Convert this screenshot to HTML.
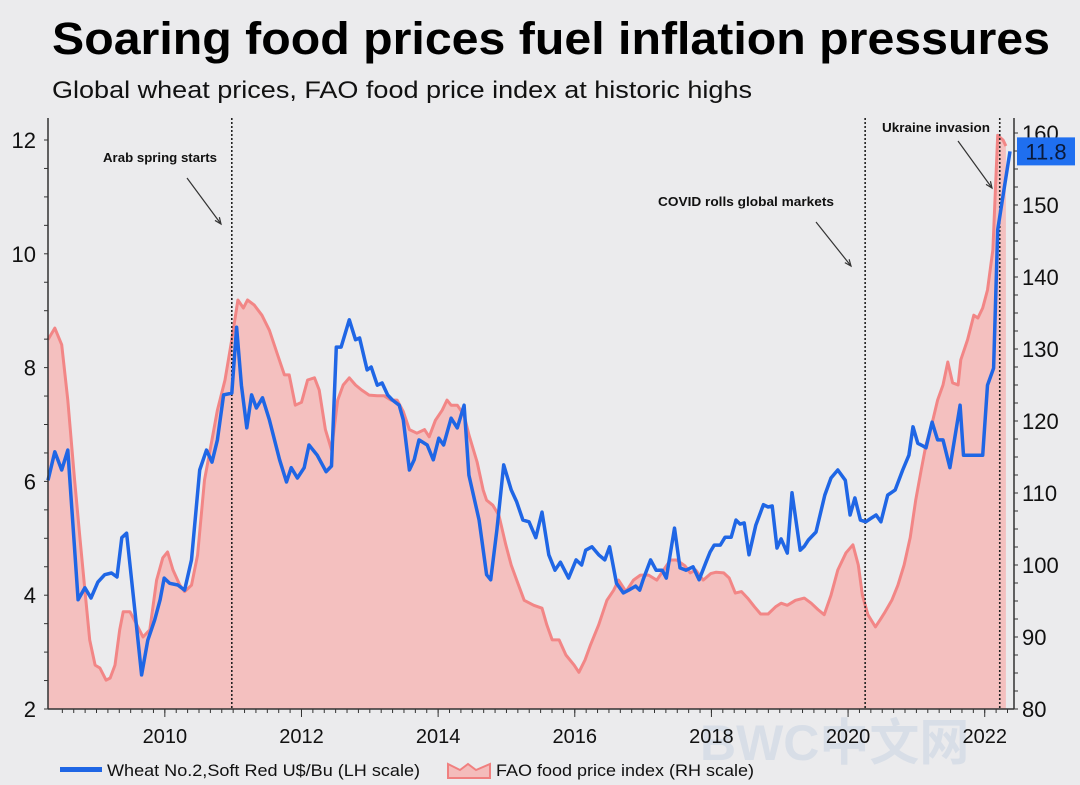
<!DOCTYPE html>
<html><head><meta charset="utf-8"><style>
html,body{margin:0;padding:0;background:#ebebed;}
svg{display:block;font-family:"Liberation Sans",Arial,sans-serif;}
</style></head><body>
<svg id="chart" width="1080" height="785" viewBox="0 0 1080 785" xmlns="http://www.w3.org/2000/svg">
<rect x="0" y="0" width="1080" height="785" fill="#ebebed"/>
<text x="52" y="54" font-size="45" font-weight="bold" fill="#000" textLength="998" lengthAdjust="spacingAndGlyphs">Soaring food prices fuel inflation pressures</text>
<text x="52" y="98" font-size="24" fill="#111" textLength="700" lengthAdjust="spacingAndGlyphs">Global wheat prices, FAO food price index at historic highs</text>
<text x="700" y="760" font-size="50" font-weight="bold" fill="#d4dbe6" opacity="0.8" font-family="'Liberation Sans','Noto Sans CJK SC',sans-serif">BWC中文网</text>
<g id="plot"></g>
<g id="axes"></g>
<g>
  <g>
    <rect x="60" y="767" width="42" height="5" fill="#1f66e5"/>
    <text x="107" y="776" font-size="17" fill="#111" textLength="313" lengthAdjust="spacingAndGlyphs">Wheat No.2,Soft Red U$/Bu (LH scale)</text>
  </g>
  <g>
    <path d="M448 764 L460 770 L468 764 L476 770 L490 764 L490 778 L448 778 Z" fill="#f4bcbb" stroke="#f08080" stroke-width="2"/>
    <text x="496" y="776" font-size="17" fill="#111" textLength="258" lengthAdjust="spacingAndGlyphs">FAO food price index (RH scale)</text>
  </g>
</g>
</svg>
<script>
const wheatYears=[2008.29,2008.39,2008.49,2008.58,2008.73,2008.83,2008.92,2009.02,2009.12,2009.22,2009.30,2009.37,2009.44,2009.56,2009.66,2009.75,2009.85,2009.93,2009.99,2010.07,2010.19,2010.29,2010.39,2010.51,2010.61,2010.69,2010.77,2010.86,2010.98,2011.05,2011.12,2011.20,2011.27,2011.34,2011.43,2011.53,2011.68,2011.78,2011.85,2011.94,2012.04,2012.11,2012.23,2012.36,2012.44,2012.51,2012.58,2012.70,2012.79,2012.85,2012.96,2013.02,2013.11,2013.18,2013.26,2013.33,2013.43,2013.49,2013.58,2013.65,2013.72,2013.84,2013.93,2014.01,2014.08,2014.19,2014.28,2014.38,2014.45,2014.60,2014.71,2014.77,2014.86,2014.96,2015.07,2015.15,2015.24,2015.33,2015.43,2015.52,2015.62,2015.71,2015.79,2015.91,2016.02,2016.10,2016.16,2016.25,2016.35,2016.44,2016.51,2016.61,2016.71,2016.79,2016.89,2016.95,2017.00,2017.11,2017.19,2017.28,2017.34,2017.46,2017.54,2017.63,2017.73,2017.82,2017.92,2017.98,2018.04,2018.13,2018.20,2018.29,2018.36,2018.42,2018.48,2018.55,2018.65,2018.76,2018.83,2018.89,2018.96,2019.02,2019.11,2019.18,2019.30,2019.36,2019.42,2019.53,2019.66,2019.75,2019.85,2019.96,2020.03,2020.10,2020.18,2020.26,2020.32,2020.41,2020.48,2020.58,2020.69,2020.80,2020.89,2020.95,2021.02,2021.10,2021.14,2021.23,2021.31,2021.39,2021.49,2021.64,2021.69,2021.97,2022.04,2022.13,2022.19,2022.28,2022.37];
const wheatValues=[6.02,6.52,6.20,6.55,3.92,4.13,3.95,4.23,4.36,4.39,4.32,5.01,5.09,3.74,2.60,3.21,3.56,3.92,4.30,4.21,4.18,4.09,4.62,6.20,6.55,6.34,6.73,7.52,7.55,8.71,7.69,6.94,7.52,7.29,7.47,7.08,6.38,5.99,6.24,6.06,6.24,6.64,6.46,6.17,6.27,8.36,8.36,8.84,8.49,8.52,7.96,8.01,7.69,7.73,7.52,7.43,7.34,7.08,6.20,6.38,6.73,6.64,6.38,6.76,6.64,7.11,6.94,7.34,6.11,5.32,4.36,4.27,5.15,6.29,5.85,5.64,5.32,5.29,5.01,5.46,4.71,4.44,4.58,4.30,4.62,4.53,4.79,4.85,4.71,4.62,4.85,4.21,4.04,4.09,4.16,4.09,4.27,4.62,4.44,4.44,4.30,5.18,4.48,4.44,4.50,4.27,4.58,4.76,4.88,4.88,5.02,5.02,5.32,5.25,5.27,4.71,5.23,5.59,5.55,5.57,4.83,4.99,4.74,5.80,4.79,4.86,4.97,5.11,5.76,6.06,6.20,6.02,5.41,5.71,5.32,5.29,5.34,5.41,5.29,5.76,5.85,6.20,6.46,6.96,6.67,6.62,6.59,7.04,6.73,6.73,6.24,7.34,6.46,6.46,7.69,7.99,10.42,11.12,11.8];
const faoYears=[2008.29,2008.39,2008.49,2008.58,2008.68,2008.76,2008.83,2008.90,2008.98,2009.05,2009.14,2009.20,2009.27,2009.34,2009.39,2009.49,2009.59,2009.68,2009.78,2009.88,2009.97,2010.04,2010.12,2010.22,2010.29,2010.39,2010.48,2010.58,2010.69,2010.77,2010.88,2010.98,2011.07,2011.15,2011.21,2011.31,2011.42,2011.53,2011.65,2011.75,2011.82,2011.91,2012.00,2012.09,2012.19,2012.26,2012.35,2012.44,2012.53,2012.61,2012.70,2012.79,2012.88,2012.99,2013.11,2013.21,2013.31,2013.40,2013.49,2013.58,2013.69,2013.80,2013.87,2013.96,2014.06,2014.13,2014.19,2014.28,2014.38,2014.45,2014.57,2014.66,2014.71,2014.80,2014.89,2014.99,2015.07,2015.15,2015.26,2015.40,2015.52,2015.59,2015.67,2015.77,2015.87,2015.99,2016.06,2016.15,2016.23,2016.35,2016.47,2016.57,2016.64,2016.75,2016.86,2016.96,2017.08,2017.20,2017.30,2017.40,2017.49,2017.61,2017.69,2017.77,2017.88,2017.99,2018.07,2018.18,2018.26,2018.35,2018.44,2018.53,2018.63,2018.72,2018.83,2018.94,2019.02,2019.11,2019.23,2019.36,2019.46,2019.56,2019.65,2019.75,2019.85,2019.97,2020.07,2020.15,2020.21,2020.29,2020.40,2020.47,2020.53,2020.64,2020.73,2020.82,2020.91,2020.99,2021.07,2021.14,2021.24,2021.31,2021.39,2021.46,2021.53,2021.61,2021.65,2021.75,2021.84,2021.90,2021.97,2022.04,2022.12,2022.19,2022.27,2022.31];
const faoValues=[131.3,132.9,130.6,122.9,111.8,103.5,96.5,89.6,86.1,85.7,84.0,84.3,86.1,91.0,93.5,93.5,91.7,90.0,91.0,97.9,101.0,101.8,99.3,97.2,96.3,97.2,101.4,111.8,117.4,121.5,125.7,131.3,136.8,135.7,136.8,136.1,134.7,132.6,129.2,126.4,126.4,122.2,122.6,125.7,126.0,124.3,118.8,116.0,122.9,125.0,126.0,125.0,124.3,123.6,123.5,123.5,122.9,122.9,121.3,118.8,118.3,118.8,117.8,120.1,121.5,122.9,122.2,122.2,120.8,118.1,114.3,110.4,109.0,108.3,106.9,102.8,100.0,97.9,95.1,94.4,94.0,91.7,89.6,89.6,87.5,86.1,85.1,86.8,88.9,91.7,95.1,96.5,97.9,96.3,97.9,98.6,98.6,97.9,99.3,100.7,100.7,99.9,98.9,99.3,97.9,98.8,99.0,98.9,98.2,96.1,96.3,95.4,94.2,93.2,93.2,94.2,94.7,94.4,95.1,95.4,94.7,93.8,93.1,95.8,99.3,101.7,102.8,100.0,95.8,93.1,91.4,92.4,93.3,95.1,97.2,100.0,103.8,109.0,113.2,116.7,120.1,122.9,125.0,128.2,125.3,125.0,128.5,131.3,134.7,134.3,135.7,138.2,143.8,159.7,159.0,158.2];
const leftTicks=[2,4,6,8,10,12];
const rightTicks=[80,90,100,110,120,130,140,150,160];
const yearTicks=[2010,2012,2014,2016,2018,2020,2022];
const eventYears=[2010.98,2020.25,2022.22];
const eventLabels=["Arab spring starts","COVID rolls global markets","Ukraine invasion"];

const NS="http://www.w3.org/2000/svg";
const L=48,R=1014,T=118,B=709;
const X0=2008.29,X1=2022.37;
function xs(yr){return L+(yr-X0)/(X1-X0)*(R-4-L);}
function yl(v){return B-(v-2)/(12-2)*(B-140);}
function yr(v){return B-(v-80)/(160-80)*(B-133);}
function mk(tag,attrs,parent){const e=document.createElementNS(NS,tag);for(const k in attrs)e.setAttribute(k,attrs[k]);parent.appendChild(e);return e;}
const plot=document.getElementById('plot');
const axes=document.getElementById('axes');

let d="M"+xs(faoYears[0])+" "+B;
for(let i=0;i<faoYears.length;i++)d+=" L"+xs(faoYears[i]).toFixed(1)+" "+yr(faoValues[i]).toFixed(1);
d+=" L"+xs(faoYears[faoYears.length-1]).toFixed(1)+" "+B+" Z";
const area=mk('path',{d:d,fill:'#f4c0bf',stroke:'none'},plot);


let dl="";
for(let i=0;i<faoYears.length;i++)dl+=(i?" L":"M")+xs(faoYears[i]).toFixed(1)+" "+yr(faoValues[i]).toFixed(1);
const fl=mk('path',{d:dl,fill:'none',stroke:'#f28686','stroke-width':3,'stroke-linejoin':'round'},plot);



for(let i=0;i<eventYears.length;i++){
  const ln=mk('line',{x1:xs(eventYears[i]),x2:xs(eventYears[i]),y1:T,y2:B,stroke:'#222','stroke-width':1.6,'stroke-dasharray':'2,2'},plot);
  
  
}
const ann=[{t:eventLabels[0],tx:103,ty:162,w:114,ax1:187,ay1:178,ax2:221,ay2:224},
           {t:eventLabels[1],tx:658,ty:206,w:176,ax1:816,ay1:222,ax2:851,ay2:266},
           {t:eventLabels[2],tx:882,ty:132,w:108,ax1:958,ay1:141,ax2:992,ay2:188}];
for(const a of ann){
  const tx=mk('text',{x:a.tx,y:a.ty,'font-size':13,fill:'#111','font-weight':'bold',textLength:a.w,lengthAdjust:'spacingAndGlyphs'},plot);tx.textContent=a.t;
  
  
  const ar=mk('line',{x1:a.ax1,y1:a.ay1,x2:a.ax2,y2:a.ay2,stroke:'#333','stroke-width':1.2},plot);
  
  
  const ang=Math.atan2(a.ay2-a.ay1,a.ax2-a.ax1);
  const p1=[a.ax2-7*Math.cos(ang-0.4),a.ay2-7*Math.sin(ang-0.4)],p2=[a.ax2-7*Math.cos(ang+0.4),a.ay2-7*Math.sin(ang+0.4)];
  const hd=mk('path',{d:`M${p1[0]} ${p1[1]} L${a.ax2} ${a.ay2} L${p2[0]} ${p2[1]}`,fill:'none',stroke:'#333','stroke-width':1.2},plot);
  
  
}

let dw="";
for(let i=0;i<wheatYears.length;i++)dw+=(i?" L":"M")+xs(wheatYears[i]).toFixed(1)+" "+yl(wheatValues[i]).toFixed(1);
const wl=mk('path',{d:dw,fill:'none',stroke:'#1f66e5','stroke-width':3.5,'stroke-linejoin':'round'},plot);



const la=mk('line',{x1:L,x2:L,y1:T,y2:B,stroke:'#333','stroke-width':1.5},axes);


const ra=mk('line',{x1:R,x2:R,y1:T,y2:B,stroke:'#333','stroke-width':1.5},axes);


const ba=mk('line',{x1:L,x2:R,y1:B,y2:B,stroke:'#333','stroke-width':1.5},axes);


for(let v=2;v<=12.01;v+=0.5){mk('line',{x1:L-4,x2:L,y1:yl(v),y2:yl(v),stroke:'#333'},axes);}
for(const v of leftTicks){
  const t=mk('text',{x:36,y:yl(v)+8,'font-size':22,'text-anchor':'end',fill:'#111'},axes);t.textContent=v;
  
  
}
for(let v=80;v<=160;v+=2.5){mk('line',{x1:R,x2:R+4,y1:yr(v),y2:yr(v),stroke:'#333'},axes);}
for(const v of rightTicks){
  const t=mk('text',{x:1022,y:yr(v)+8,'font-size':22,fill:'#111'},axes);t.textContent=v;
  
  
}
for(let y=2008.5;y<X1;y+=1/6){mk('line',{x1:xs(y),x2:xs(y),y1:B,y2:B+4,stroke:'#333'},axes);}
for(const y of yearTicks){
  mk('line',{x1:xs(y),x2:xs(y),y1:B,y2:B+8,stroke:'#333'},axes);
  const t=mk('text',{x:xs(y),y:743,'font-size':20,'text-anchor':'middle',fill:'#111'},axes);t.textContent=y;
  
  
}
const lastV=wheatValues[wheatValues.length-1];
const bx=mk('rect',{x:1017,y:yl(lastV)-14,width:58,height:28,fill:'#1f6ff0'},axes);


const bt=mk('text',{x:1046,y:yl(lastV)+8,'font-size':22,'text-anchor':'middle',fill:'#0a1a3a'},axes);bt.textContent=lastV.toFixed(1);


</script>
</body></html>
